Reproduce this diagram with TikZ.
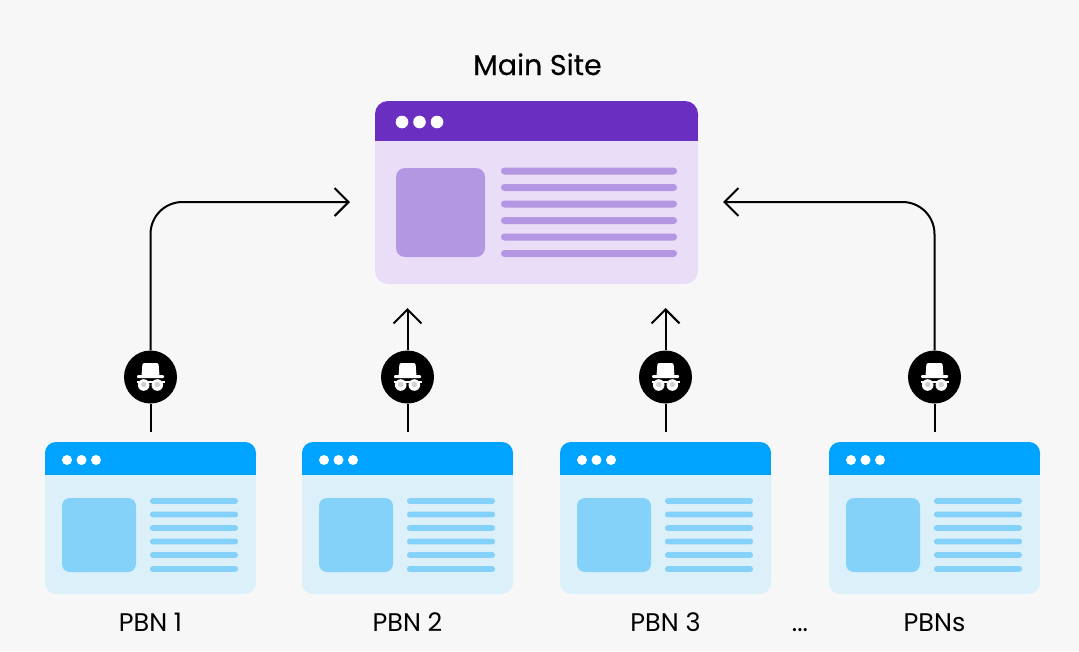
\documentclass[tikz,border=0pt]{standalone}
\usepackage{fontspec}
\setmainfont{Poppins}
\newfontfamily\titlefont[FakeBold=0.3]{Poppins}
\usetikzlibrary{arrows.meta}
\definecolor{pagebg}{HTML}{F7F7F7}
\definecolor{bluehead}{HTML}{00A3FF}
\definecolor{bluebody}{HTML}{DCF0FA}
\definecolor{bluebox}{HTML}{84D1F9}
\definecolor{purphead}{HTML}{6A2EC0}
\definecolor{purpbody}{HTML}{E9DDF7}
\definecolor{purpbox}{HTML}{B397E2}
\tikzset{
	link/.style={line width=2pt, black},
	tip/.style={-{Straight Barb[length=14pt, width=28pt, line width=2pt]}},
	badge/.style={circle, fill=black, minimum size=53pt, inner sep=0pt},
	sitename/.style={inner sep=0pt, anchor=base, font=\fontsize{25.5}{30}\selectfont},
	pics/spy/.style={code={
		\fill[white, rounded corners=1.5pt] (-9,-1) -- (-8,-14) -- (8,-14) -- (9,-1) -- cycle;
		\fill[white, rounded corners=1pt] (-13.5,-2) rectangle (13.5,1);
		\fill[white] (-14,4.2) rectangle (14,5.8);
		\fill[white] (-6.8,8) circle (5.8);
		\fill[white] (6.8,8) circle (5.8);
		\fill[gray!35] (-6.8,7.5) circle (2.8);
		\fill[gray!35] (6.8,7.5) circle (2.8);
	}}
}
\begin{document}
\begin{tikzpicture}[x=1pt, y=-1pt]
		\useasboundingbox (0,0) rectangle (1079,651);
		\fill[pagebg] (0,0) rectangle (1079,651);

		%main window
		\node at (537.5,75) [inner sep=0pt, anchor=base, font=\fontsize{28.5}{32}\titlefont] (maintitle) {Main Site};
		\node at (536.5,192.5) [fill=purpbody, rounded corners=13pt, minimum width=323pt, minimum height=183pt, inner sep=0pt] (main) {};
		\fill[purphead, rounded corners=13pt] (375,101) rectangle (698,130);
		\fill[purphead] (375,118) rectangle (698,141);
		\foreach \x in {402, 419.5, 437}{
			\fill[white] (\x,122) circle (6.3);
		}
		\fill[purpbox, rounded corners=9pt] (396,168) rectangle (485,257);
		\foreach \y in {171, 187.5, 204, 220.5, 237, 253.5}{
			\fill[purpbox, rounded corners=3.4pt] (501,\y-3.5) rectangle (677,\y+3.5);
		}

		%pbn windows
		\foreach \i/\x/\name in {1/45/PBN 1, 2/302/PBN 2, 3/560/PBN 3, 4/829/PBNs}{
			\node at (\x+105.5,518) [fill=bluebody, rounded corners=11pt, minimum width=211pt, minimum height=152pt, inner sep=0pt] (win\i) {};
			\fill[bluehead, rounded corners=11pt] (\x,442) rectangle (\x+211,466);
			\fill[bluehead] (\x,455) rectangle (\x+211,475);
			\foreach \d in {22, 36.5, 51}{
				\fill[white] (\x+\d,460) circle (5);
			}
			\fill[bluebox, rounded corners=8pt] (\x+17,498) rectangle (\x+91,572);
			\foreach \y in {501, 514.5, 528, 541.5, 555, 569}{
				\fill[bluebox, rounded corners=2.7pt] (\x+105,\y-2.9) rectangle (\x+193,\y+2.9);
			}
			\node at (\x+105.5,631) [sitename] (name\i) {\name};
			\node at (\x+105.5,377) [badge] (badge\i) {};
			\pic at (badge\i) {spy};
			\draw[link, shorten <=10pt] (win\i.north) -- (badge\i);
		}
		\node at (800,631) [sitename] (dots) {...};

		%arrows to main
		\coordinate (inleft) at (350,202);
		\coordinate (inright) at (723,202);
		\coordinate (intwo) at (407.5,308);
		\coordinate (inthree) at (665.5,308);
		\draw[link, tip, rounded corners=32pt] (badge1) |- (inleft);
		\draw[link, tip, rounded corners=32pt] (badge4) |- (inright);
		\draw[link, tip] (badge2) -- (intwo);
		\draw[link, tip] (badge3) -- (inthree);
\end{tikzpicture}
\end{document}
